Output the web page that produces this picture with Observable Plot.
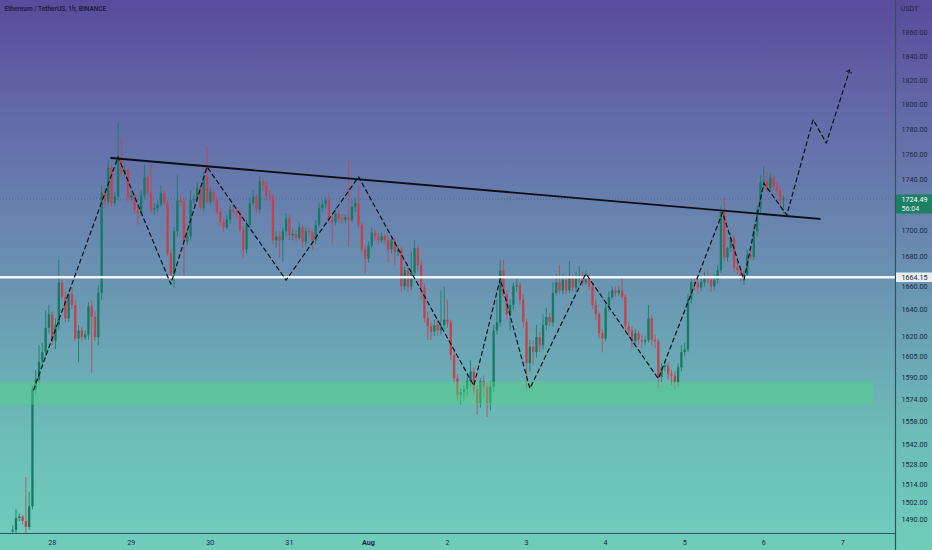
<!DOCTYPE html>
<html>
<head>
<meta charset="utf-8">
<script src="https://cdn.jsdelivr.net/npm/d3@7"></script>
<script src="https://cdn.jsdelivr.net/npm/@observablehq/plot@0.6"></script>
<style>
  html, body { margin: 0; padding: 0; }
  body {
    width: 932px; height: 550px; overflow: hidden;
    background: linear-gradient(to bottom, #5a4b9c 0%, #6368a8 20%, #6a92b2 50%, #6cbeb8 80%, #6fcdba 100%);
    font-family: Roboto, "DejaVu Sans", sans-serif;
  }
  #chart svg { display: block; }
</style>
</head>
<body>
<div id="chart"></div>
<script>
// ---- Data: ETH/USDT 1h candles, 2022-07-27 12:00 UTC .. 2022-08-06 06:00 UTC ----
const firstCandle = "2022-07-27T12:00:00Z";
const open = [
  1482,1483,1491,1492,1489,1485,1499,1581,1588,1601,
  1608,1626,1636,1616,1628,1660,1649,1633,1651,1643,
  1618,1624,1619,1621,1642,1634,1619,1652,1729,1722,
  1749,1721,1726,1757,1745,1747,1725,1727,1716,1713,
  1727,1741,1729,1716,1717,1720,1729,1721,1682,1666,
  1699,1723,1722,1691,1695,1723,1724,1733,1717,1742,
  1722,1730,1723,1714,1706,1702,1708,1716,1714,1713,
  1700,1685,1704,1721,1726,1716,1738,1735,1727,1726,
  1692,1695,1692,1699,1709,1696,1697,1694,1702,1691,
  1699,1698,1692,1704,1717,1720,1723,1708,1706,1713,
  1709,1708,1710,1708,1718,1721,1704,1685,1678,1688,
  1698,1695,1692,1695,1692,1685,1692,1683,1685,1657,
  1669,1657,1667,1686,1673,1656,1633,1627,1623,1628,
  1624,1628,1632,1630,1606,1589,1577,1579,1581,1587,
  1594,1581,1571,1587,1583,1571,1583,1624,1630,1669,
  1651,1636,1643,1657,1658,1647,1630,1600,1612,1608,
  1619,1613,1628,1634,1630,1652,1660,1654,1662,1654,
  1663,1656,1663,1665,1660,1664,1657,1643,1636,1622,
  1618,1641,1649,1654,1652,1654,1649,1627,1624,1616,
  1622,1617,1616,1617,1633,1617,1616,1590,1597,1598,
  1592,1591,1586,1597,1608,1610,1647,1660,1659,1656,
  1660,1664,1662,1657,1662,1669,1714,1679,1686,1694,
  1671,1669,1664,1666,1681,1679,1699,1716,1737,1738,
  1733,1741,1734,1731,1723
];
const high = [
  1486,1497,1494,1493,1519,1509,1584,1595,1613,1615,
  1639,1643,1638,1633,1677,1663,1653,1654,1656,1647,
  1628,1627,1624,1645,1646,1638,1658,1735,1733,1755,
  1751,1730,1785,1773,1751,1749,1731,1729,1719,1731,
  1751,1743,1751,1721,1723,1735,1731,1723,1685,1702,
  1743,1727,1725,1699,1731,1727,1738,1735,1746,1766,
  1733,1732,1726,1717,1709,1712,1719,1719,1717,1716,
  1703,1708,1725,1731,1728,1742,1740,1738,1731,1728,
  1699,1699,1702,1713,1712,1701,1700,1706,1704,1702,
  1702,1700,1708,1721,1723,1726,1727,1711,1717,1716,
  1712,1712,1755,1723,1725,1735,1706,1688,1691,1702,
  1700,1698,1698,1697,1695,1695,1695,1688,1688,1672,
  1671,1683,1692,1688,1677,1659,1638,1630,1632,1633,
  1654,1657,1647,1632,1610,1592,1582,1584,1592,1602,
  1597,1584,1589,1591,1586,1587,1628,1647,1677,1677,
  1654,1647,1660,1663,1660,1651,1633,1617,1617,1628,
  1623,1636,1641,1637,1660,1666,1673,1666,1665,1676,
  1666,1668,1672,1668,1669,1666,1659,1647,1638,1625,
  1644,1653,1657,1657,1657,1663,1651,1630,1627,1625,
  1624,1621,1620,1643,1636,1621,1618,1600,1602,1601,
  1595,1594,1600,1613,1615,1651,1663,1664,1662,1663,
  1668,1669,1665,1666,1673,1719,1725,1687,1698,1696,
  1676,1672,1669,1685,1685,1702,1719,1743,1750,1745,
  1745,1743,1738,1734,1727
];
const low = [
  1481,1481,1489,1487,1481,1483,1497,1577,1586,1597,
  1605,1622,1613,1610,1624,1647,1630,1630,1640,1616,
  1601,1616,1617,1617,1593,1616,1613,1647,1717,1720,
  1718,1719,1723,1742,1741,1722,1722,1713,1704,1711,
  1725,1727,1713,1712,1714,1718,1719,1680,1662,1656,
  1695,1719,1664,1688,1692,1720,1722,1715,1714,1720,
  1720,1721,1712,1703,1699,1700,1705,1711,1709,1698,
  1678,1682,1701,1719,1713,1713,1731,1723,1722,1689,
  1686,1679,1676,1695,1692,1692,1691,1692,1686,1688,
  1695,1685,1689,1702,1714,1717,1706,1689,1704,1706,
  1705,1705,1687,1706,1714,1702,1683,1667,1675,1686,
  1692,1689,1690,1689,1675,1682,1673,1680,1653,1654,
  1653,1654,1664,1669,1647,1630,1617,1617,1620,1620,
  1621,1625,1626,1602,1586,1573,1570,1573,1576,1583,
  1577,1563,1568,1575,1561,1566,1579,1621,1627,1649,
  1632,1624,1639,1653,1643,1626,1582,1594,1599,1604,
  1608,1610,1624,1627,1627,1650,1651,1651,1651,1652,
  1653,1653,1660,1657,1658,1654,1640,1632,1618,1608,
  1616,1638,1647,1649,1650,1647,1623,1620,1611,1613,
  1613,1611,1613,1615,1613,1611,1582,1586,1594,1588,
  1584,1581,1583,1594,1605,1608,1644,1654,1651,1653,
  1657,1659,1653,1654,1659,1667,1676,1676,1683,1668,
  1666,1660,1658,1663,1677,1677,1695,1713,1731,1730,
  1730,1731,1727,1717,1713
];
const close = [
  1483,1491,1492,1489,1485,1499,1581,1588,1601,1608,
  1626,1636,1616,1628,1660,1649,1633,1651,1643,1618,
  1624,1619,1621,1642,1634,1619,1652,1729,1722,1749,
  1721,1726,1757,1745,1747,1725,1727,1716,1713,1727,
  1741,1729,1716,1717,1720,1729,1721,1682,1666,1699,
  1723,1722,1691,1695,1723,1724,1733,1717,1742,1722,
  1730,1723,1714,1706,1702,1708,1716,1714,1713,1700,
  1685,1704,1721,1726,1716,1738,1735,1727,1726,1692,
  1695,1692,1699,1709,1696,1697,1694,1702,1691,1699,
  1698,1692,1704,1717,1720,1723,1708,1706,1713,1709,
  1708,1710,1708,1718,1721,1704,1685,1678,1688,1698,
  1695,1692,1695,1692,1685,1692,1683,1685,1657,1669,
  1657,1667,1686,1673,1656,1633,1627,1623,1628,1624,
  1628,1632,1630,1606,1589,1577,1579,1581,1587,1594,
  1581,1571,1587,1583,1571,1583,1624,1630,1669,1651,
  1636,1643,1657,1658,1647,1630,1600,1612,1608,1619,
  1613,1628,1634,1630,1652,1660,1654,1662,1654,1663,
  1656,1663,1665,1660,1664,1657,1643,1636,1622,1618,
  1641,1649,1654,1652,1654,1649,1627,1624,1616,1622,
  1617,1616,1617,1633,1617,1616,1590,1597,1598,1592,
  1591,1586,1597,1608,1610,1647,1660,1659,1656,1660,
  1664,1662,1657,1662,1669,1714,1679,1686,1694,1671,
  1669,1664,1666,1681,1679,1699,1716,1737,1738,1733,
  1741,1734,1731,1723,1724.49
];

// Drawings
const supportLevel = 1664.15;
const lastPrice = 1724.49;
const countdown = "56:04";
const zone = [{start: "2022-07-27T00:00:00Z", end: "2022-08-07T09:20:00Z", low: 1570.0, high: 1586.5}];
const trendTimes = ["2022-07-28T17:54:00Z", "2022-08-06T17:00:00Z"];
const trendPrices = [1757, 1709];
const pathTimes = [
  "2022-07-27T18:20:00Z","2022-07-28T20:00:00Z","2022-07-29T12:00:00Z","2022-07-29T23:00:00Z",
  "2022-07-30T23:00:00Z","2022-07-31T21:00:00Z","2022-08-02T08:00:00Z","2022-08-02T16:00:00Z",
  "2022-08-03T01:00:00Z","2022-08-03T18:00:00Z","2022-08-04T16:00:00Z","2022-08-05T11:30:00Z",
  "2022-08-05T18:00:00Z","2022-08-06T00:00:00Z","2022-08-06T07:00:00Z","2022-08-06T15:00:00Z",
  "2022-08-06T19:00:00Z","2022-08-07T02:00:00Z"
];
const pathPrices = [1581,1758,1659,1750,1662,1742,1584,1663,1582,1667,1589,1714,1662,1737,1712,1788,1769,1828];

// Axis ticks (1660 sits just under the 1664.15 label box)
const yTicks = [1860,1840,1820,1800,1780,1760,1740,1700,1680,1640,1620,1605,1590,1574,1558,1542,1528,1514,1502,1490];
const yTickUnderLabel = [1660];
const dayTicks = ["2022-07-28","2022-07-29","2022-07-30","2022-07-31","2022-08-02","2022-08-03","2022-08-04","2022-08-05","2022-08-06","2022-08-07"];
const dayLabels = ["28","29","30","31","2","3","4","5","6","7"];
const monthTicks = ["2022-08-01"];
const monthLabels = ["Aug"];
const title = "Ethereum / TetherUS, 1h, BINANCE";
const currency = "USDT";

// ---- Build ----
const HOUR = 3600000;
const t0 = new Date(firstCandle).getTime();
const candles = close.map((c, i) => ({t: new Date(t0 + i * HOUR), o: open[i], h: high[i], l: low[i], c}));
const trend = trendTimes.map((t, i) => ({t: new Date(t), p: trendPrices[i]}));
const path = pathTimes.map((t, i) => ({t: new Date(t), p: pathPrices[i]}));
const days = dayTicks.map((d, i) => ({t: new Date(d + "T00:00:00Z"), label: dayLabels[i]}));
const months = monthTicks.map((d, i) => ({t: new Date(d + "T00:00:00Z"), label: monthLabels[i]}));

const UP = "#157a63", DOWN = "#c5414d";
const col = d => d.c >= d.o ? UP : DOWN;
const AXIS_TEXT = "#1c2844";
const LINE = "#33525f";
const xDomain = [new Date("2022-07-27T08:18:00Z"), new Date("2022-08-07T16:00:00Z")];
const yDomain = [1480.9, 1887.7];

const chart = Plot.plot({
  width: 932,
  height: 550,
  marginTop: 0, marginRight: 37, marginBottom: 17, marginLeft: 0,
  style: {background: "none", fontFamily: "Roboto, 'DejaVu Sans', sans-serif", overflow: "hidden"},
  x: {type: "utc", domain: xDomain, axis: null},
  y: {type: "log", domain: yDomain, axis: null},
  marks: [
    // last price dotted line
    Plot.ruleY([lastPrice], {stroke: "#3d5378", strokeOpacity: 0.55, strokeWidth: 1, strokeDasharray: "1,2"}),
    // candles
    Plot.ruleX(candles, {x: "t", y1: "l", y2: "h", stroke: col, strokeWidth: 1, strokeOpacity: 0.8}),
    Plot.ruleX(candles, {x: "t", y1: "o", y2: "c", stroke: col, strokeWidth: 2.3}),
    // demand zone
    Plot.rect(zone, {x1: d => new Date(d.start), x2: d => new Date(d.end), y1: "low", y2: "high", fill: "#4fd680", fillOpacity: 0.45}),
    // support line
    Plot.ruleY([supportLevel], {stroke: "#f3f5f5", strokeWidth: 2.4}),
    // trend line
    Plot.line(trend, {x: "t", y: "p", stroke: "#0d0f14", strokeWidth: 1.9}),
    // projected path
    Plot.line(path, {x: "t", y: "p", stroke: "#0d0f14", strokeWidth: 1.2, strokeDasharray: "4,3.5", markerEnd: "arrow"}),
    // axes frame lines
    Plot.ruleY([yDomain[0]], {stroke: LINE, strokeWidth: 1.2}),
    Plot.ruleX([xDomain[1]], {stroke: LINE, strokeWidth: 1.2, insetBottom: -17}),
    // y tick labels
    Plot.text(yTicks, {y: d => d, text: d => d.toFixed(2), frameAnchor: "right", textAnchor: "start", dx: 6, fontSize: 7.2, fill: AXIS_TEXT}),
    Plot.text(yTickUnderLabel, {y: d => d, text: d => d.toFixed(2), frameAnchor: "right", textAnchor: "start", dx: 6, dy: 4, fontSize: 7.2, fill: AXIS_TEXT}),
    Plot.text([currency], {text: d => d, frameAnchor: "top-right", textAnchor: "start", lineAnchor: "middle", dx: 5, dy: 8, fontSize: 7.2, fill: AXIS_TEXT}),
    // x tick labels
    Plot.text(days, {x: "t", text: "label", frameAnchor: "bottom", lineAnchor: "middle", dy: 9, fontSize: 7.2, fill: AXIS_TEXT}),
    Plot.text(months, {x: "t", text: "label", frameAnchor: "bottom", lineAnchor: "middle", dy: 9, fontSize: 7.2, fontWeight: "bold", fill: AXIS_TEXT}),
    // price labels on axis
    Plot.ruleY([supportLevel], {stroke: "#e8eef0", strokeWidth: 9.5, insetLeft: 896, insetRight: -37}),
    Plot.text([supportLevel], {y: d => d, text: d => d.toFixed(2), frameAnchor: "right", textAnchor: "start", dx: 6, fontSize: 7.2, fill: "#1b2940"}),
    Plot.ruleY([lastPrice], {stroke: "#1d7f63", strokeWidth: 19, insetLeft: 896, insetRight: -37, dy: 5}),
    Plot.text([lastPrice], {y: d => d, text: d => d.toFixed(2), frameAnchor: "right", textAnchor: "start", dx: 6, dy: 1, fontSize: 7.2, fill: "#ffffff"}),
    Plot.text([lastPrice], {y: d => d, text: () => countdown, frameAnchor: "right", textAnchor: "start", dx: 6, dy: 10, fontSize: 7.2, fill: "#e6f2ee"}),
    // title
    Plot.text([title], {text: d => d, frameAnchor: "top-left", textAnchor: "start", lineAnchor: "middle", dx: 4, dy: 8, fontSize: 6.5, fontWeight: 600, fill: "#1a1c3b"})
  ]
});
document.getElementById("chart").appendChild(chart);
</script>
</body>
</html>
